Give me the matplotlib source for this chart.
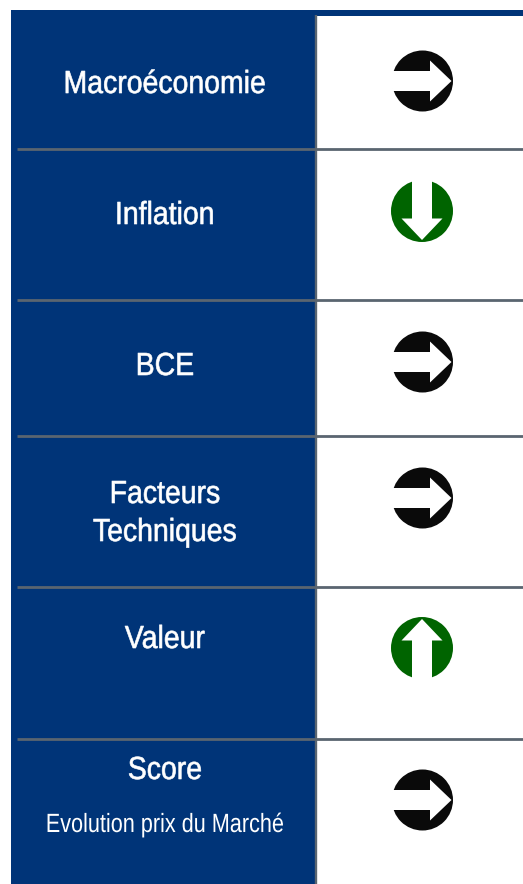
import matplotlib
matplotlib.use("Agg")
import matplotlib.pyplot as plt
from matplotlib.patches import Circle, Rectangle, Polygon
from matplotlib.patheffects import AbstractPathEffect
from matplotlib.transforms import Affine2D
import numpy as np

categories = ["Macroéconomie", "Inflation", "BCE", "Facteurs", "Techniques", "Valeur", "Score"]
directions = ["right", "down", "right", "right", "up", "right"]
subtitle = "Evolution prix du Marché"

W, H = 523, 884
BLUE, LINE, BLACK, GREEN = "#003478", "#5a6570", "#0a0a0a", "#006400"
TEXT_X = 165


class Narrow(AbstractPathEffect):
    """Squeezes the glyphs horizontally about a display x, standing in for an Arial Narrow face."""
    def __init__(self, factor, cx, stroke=0.0):
        super().__init__()
        self.factor, self.cx, self.stroke = factor, cx, stroke

    def draw_path(self, renderer, gc, tpath, affine, rgbFace=None):
        squeeze = Affine2D().translate(-self.cx, 0).scale(self.factor, 1).translate(self.cx, 0)
        gc0 = renderer.new_gc()
        gc0.copy_properties(gc)
        gc0.set_foreground("white")
        gc0.set_linewidth(self.stroke)
        renderer.draw_path(gc0, tpath, affine + squeeze, rgbFace)
        gc0.restore()


fig = plt.figure(figsize=(W/100, H/100), dpi=100)
ax = fig.add_axes([0, 0, 1, 1])
ax.set_xlim(0, W); ax.set_ylim(H, 0); ax.axis("off")

ax.add_patch(Rectangle((10.5, 9.5), 305.5, H, fc=BLUE, ec="none", zorder=1))
ax.add_patch(Rectangle((316, 9.5), W-316, 6, fc=BLUE, ec="none", zorder=1))
ax.plot([316.2, 316.2], [15, H], color=LINE, lw=1.7, zorder=3, solid_capstyle="butt")
for y in [148.5, 299.5, 435.5, 586.5, 738.5]:
    ax.plot([17, W], [y, y], color=LINE, lw=2.0, zorder=3, solid_capstyle="butt")

baselines = [93, 224, 375, 503, 541, 648, 779]
for name, by in zip(categories, baselines):
    ax.text(TEXT_X, by, name, color="white", family="Liberation Sans", fontsize=23, ha="center",
            va="baseline", zorder=4, path_effects=[Narrow(0.89, TEXT_X, 0.45)])
ax.text(TEXT_X, 832, subtitle, color="white", family="Liberation Sans", fontsize=19, ha="center",
        va="baseline", zorder=4, path_effects=[Narrow(0.82, TEXT_X)])

icon_y = [81, 211, 362, 498, 648, 800]
arrow = np.array([[-40, -10], [7.5, -10], [7.5, -20.5], [29, 0], [7.5, 20.5], [7.5, 10], [-40, 10]])
rot = {"right": 0, "down": 90, "up": -90}
for d, cy in zip(directions, icon_y):
    col, cx, r = (BLACK, 422.5, 30.5) if d == "right" else (GREEN, 422.0, 31.0)
    ax.add_patch(Circle((cx, cy), r, fc=col, ec="none", zorder=4))
    t = np.deg2rad(rot[d])
    R = np.array([[np.cos(t), -np.sin(t)], [np.sin(t), np.cos(t)]])
    pts = arrow @ R.T + [cx, cy]
    poly = Polygon(pts, closed=True, fc="white", ec="none", zorder=5)
    ax.add_patch(poly)
    poly.set_clip_path(Circle((cx, cy), r + 1, transform=ax.transData))

fig.savefig("out.png", dpi=100, facecolor="white")
